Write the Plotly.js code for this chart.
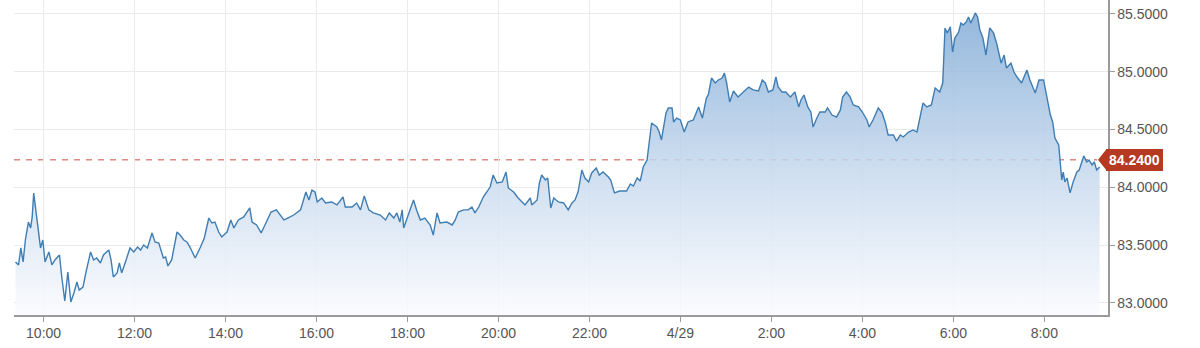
<!DOCTYPE html>
<html>
<head>
<meta charset="utf-8">
<script src="https://cdn.plot.ly/plotly-3.0.1.min.js"></script>
<style>
html,body{margin:0;padding:0;background:#fff;}
#chart{width:1200px;height:348px;}
</style>
</head>
<body>
<div id="chart"></div>
<script>
// ---- data ----
const day1 = "2018-04-28";
const day2 = "2018-04-29";
const times28 = ["09:23","09:27","09:30","09:33","09:36","09:40","09:43","09:45","09:47","09:50","09:53","09:56","09:59","10:02","10:07","10:11","10:15","10:21","10:24","10:28","10:32","10:36","10:40","10:44","10:47","10:52","10:56","11:02","11:06","11:10","11:15","11:19","11:26","11:29","11:32","11:37","11:40","11:43","11:48","11:54","11:59","12:04","12:08","12:12","12:17","12:23","12:27","12:32","12:38","12:41","12:44","12:49","12:56","13:00","13:05","13:09","13:13","13:20","13:27","13:32","13:38","13:42","13:46","13:51","13:55","14:02","14:07","14:11","14:17","14:24","14:32","14:35","14:41","14:47","14:52","15:00","15:07","15:12","15:17","15:22","15:30","15:39","15:46","15:50","15:54","15:58","16:01","16:07","16:12","16:20","16:27","16:35","16:38","16:47","16:53","16:58","17:03","17:09","17:15","17:24","17:31","17:36","17:42","17:46","17:50","17:53","17:55","18:01","18:08","18:12","18:17","18:23","18:30","18:34","18:39","18:43","18:52","18:59","19:03","19:07","19:14","19:20","19:25","19:29","19:34","19:40","19:49","19:53","19:58","20:05","20:10","20:13","20:20","20:26","20:35","20:42","20:44","20:51","20:54","20:57","21:02","21:05","21:09","21:13","21:19","21:26","21:32","21:37","21:41","21:45","21:50","21:54","21:59","22:03","22:09","22:13","22:18","22:25","22:28","22:33","22:40","22:49","22:54","22:58","23:03","23:07","23:11","23:16","23:19","23:22","23:29","23:32","23:35","23:39","23:41","23:44","23:49","23:51","23:55"];
const prices28 = [83.355,83.329,83.476,83.355,83.545,83.700,83.649,83.744,83.950,83.779,83.606,83.476,83.545,83.355,83.441,83.329,83.372,83.415,83.225,83.017,83.268,83.009,83.087,83.182,83.112,83.138,83.268,83.441,83.372,83.389,83.346,83.415,83.458,83.372,83.225,83.260,83.346,83.260,83.355,83.476,83.441,83.484,83.458,83.502,83.476,83.606,83.528,83.519,83.389,83.398,83.320,83.372,83.614,83.588,83.545,83.528,83.484,83.389,83.484,83.562,83.735,83.692,83.700,83.614,83.571,83.614,83.718,83.649,83.718,83.744,83.822,83.700,83.675,83.606,83.675,83.787,83.805,83.761,83.718,83.735,83.761,83.805,83.960,83.891,83.977,83.960,83.874,83.908,83.865,83.874,83.848,83.917,83.830,83.830,83.865,83.805,83.926,83.805,83.779,83.761,83.718,83.779,83.735,83.779,83.700,83.805,83.649,83.761,83.891,83.805,83.718,83.735,83.675,83.588,83.779,83.692,83.700,83.675,83.718,83.787,83.805,83.805,83.830,83.779,83.830,83.917,84.003,84.107,84.038,84.047,84.133,83.995,83.960,83.908,83.848,83.908,83.848,83.891,84.038,84.107,84.064,84.081,83.822,83.908,83.874,83.865,83.805,83.865,83.891,83.960,84.150,84.081,84.047,84.125,84.168,84.107,84.133,84.090,84.064,83.952,83.969,83.969,84.030,84.012,84.081,84.055,84.176,84.237,84.410,84.557,84.522,84.479,84.410,84.583,84.644,84.687,84.687,84.566,84.600];
const times29 = ["00:00","00:05","00:10","00:17","00:24","00:29","00:34","00:37","00:41","00:46","00:50","00:55","00:58","01:01","01:05","01:10","01:16","01:23","01:30","01:36","01:43","01:48","01:52","01:56","02:02","02:06","02:09","02:14","02:19","02:25","02:31","02:36","02:39","02:43","02:48","02:52","02:55","03:00","03:04","03:11","03:14","03:20","03:26","03:31","03:34","03:39","03:44","03:48","03:55","04:00","04:06","04:09","04:14","04:21","04:26","04:30","04:34","04:41","04:45","04:50","04:54","05:01","05:07","05:12","05:16","05:20","05:25","05:31","05:36","05:42","05:46","05:49","05:52","05:56","05:59","06:02","06:07","06:10","06:13","06:17","06:20","06:23","06:26","06:29","06:32","06:35","06:39","06:43","06:48","06:53","06:57","07:03","07:07","07:10","07:16","07:20","07:24","07:30","07:37","07:41","07:48","07:53","07:59","08:03","08:08","08:11","08:14","08:19","08:21","08:23","08:25","08:27","08:30","08:34","08:38","08:43","08:46","08:49","08:52","08:56","08:59","09:03","09:06","09:09","09:13"];
const prices29 = [84.583,84.479,84.566,84.583,84.696,84.600,84.765,84.808,84.946,84.903,84.929,84.946,84.990,84.903,84.739,84.834,84.782,84.825,84.868,84.843,84.834,84.929,84.903,84.825,84.843,84.955,84.868,84.825,84.825,84.782,84.825,84.696,84.756,84.799,84.696,84.652,84.522,84.600,84.652,84.652,84.687,84.626,84.609,84.670,84.782,84.825,84.782,84.713,84.696,84.652,84.583,84.522,84.583,84.687,84.644,84.566,84.453,84.453,84.401,84.453,84.436,84.479,84.497,84.479,84.609,84.730,84.696,84.713,84.860,84.825,84.903,85.379,85.336,85.388,85.171,85.292,85.344,85.422,85.405,85.431,85.474,85.422,85.465,85.509,85.474,85.362,85.292,85.145,85.379,85.336,85.249,85.076,85.145,85.033,85.076,84.998,84.955,84.903,85.016,84.929,84.817,84.929,84.929,84.799,84.626,84.566,84.427,84.367,84.237,84.064,84.133,84.047,84.081,83.952,84.047,84.133,84.150,84.211,84.272,84.220,84.237,84.194,84.220,84.150,84.176];
const lastPrice = 84.24;
const lastPriceLabel = "84.2400";
const tickTimes = [day1+" 10:00",day1+" 12:00",day1+" 14:00",day1+" 16:00",day1+" 18:00",day1+" 20:00",day1+" 22:00",day2+" 00:00",day2+" 02:00",day2+" 04:00",day2+" 06:00",day2+" 08:00"];
const tickLabels = ["10:00","12:00","14:00","16:00","18:00","20:00","22:00","4/29","2:00","4:00","6:00","8:00"];
const yTicks = [83.0,83.5,84.0,84.5,85.0,85.5];
const dayBreak = day2+" 00:00";
const xRange = [day1+" 09:21", day2+" 09:24"];
const yRange = [82.896, 85.621];

// ---- build ----
const xs = times28.map(t => day1+" "+t).concat(times29.map(t => day2+" "+t));
const ys = prices28.concat(prices29);

const trace = {
  x: xs, y: ys, type: "scatter", mode: "lines",
  line: {color: "#3f7db3", width: 1.4},
  fill: "tozeroy",
  fillgradient: {
    type: "vertical", start: 82.9, stop: 85.55,
    colorscale: [[0,"rgba(250,251,254,0.85)"],[0.45,"rgba(200,218,238,0.85)"],[1,"rgba(128,170,214,0.85)"]]
  },
  hoverinfo: "skip"
};

const font = {family: "Liberation Sans, Arial, sans-serif", size: 13, color: "#555"};

const layout = {
  width: 1200, height: 348,
  margin: {l: 14, r: 92, t: 0, b: 33, pad: 0},
  paper_bgcolor: "#fff", plot_bgcolor: "#fff",
  showlegend: false, hovermode: false,
  font: font,
  xaxis: {
    type: "date", range: xRange,
    tickmode: "array", tickvals: tickTimes, ticktext: tickLabels,
    showgrid: true, gridcolor: "#ebebeb", gridwidth: 1,
    showline: true, linecolor: "#9a9a9a", linewidth: 1.5,
    ticks: "outside", ticklen: 5, tickcolor: "#9a9a9a",
    tickfont: {family: font.family, size: 14, color: "#555"},
    zeroline: false, fixedrange: true
  },
  yaxis: {
    side: "right", range: yRange,
    tickmode: "array", tickvals: yTicks, tickformat: ".4f",
    showgrid: true, gridcolor: "#ebebeb", gridwidth: 1,
    showline: true, linecolor: "#9a9a9a", linewidth: 1.5,
    ticks: "outside", ticklen: 5, tickcolor: "#9a9a9a",
    tickfont: {family: font.family, size: 14, color: "#555"},
    zeroline: false, fixedrange: true
  },
  shapes: [
    {type: "line", xref: "x", yref: "paper", x0: dayBreak, x1: dayBreak, y0: 0, y1: 1,
     line: {color: "#c9c9c9", width: 1}, layer: "below"},
    {type: "line", xref: "paper", yref: "y", x0: 0, x1: 0.99, y0: lastPrice, y1: lastPrice,
     line: {color: "#df8a7e", width: 1.5, dash: "6px,6px"}, layer: "below"},
    {type: "path", xref: "paper", yref: "y", xsizemode: "pixel", ysizemode: "pixel",
     xanchor: 1, yanchor: lastPrice,
     path: "M -10 0 L -2 10 L -2 -10 Z", fillcolor: "#b63a22", line: {width: 0}}
  ],
  annotations: [
    {xref: "paper", yref: "y", x: 0.9985, y: lastPrice, xanchor: "left", yanchor: "middle",
     text: "<b>" + lastPriceLabel + "</b>", showarrow: false,
     font: {family: font.family, size: 14, color: "#ffffff"},
     bgcolor: "#b63a22", bordercolor: "#b63a22", borderwidth: 0, borderpad: 3}
  ]
};

Plotly.newPlot("chart", [trace], layout, {displayModeBar: false, staticPlot: true});
</script>
</body>
</html>
